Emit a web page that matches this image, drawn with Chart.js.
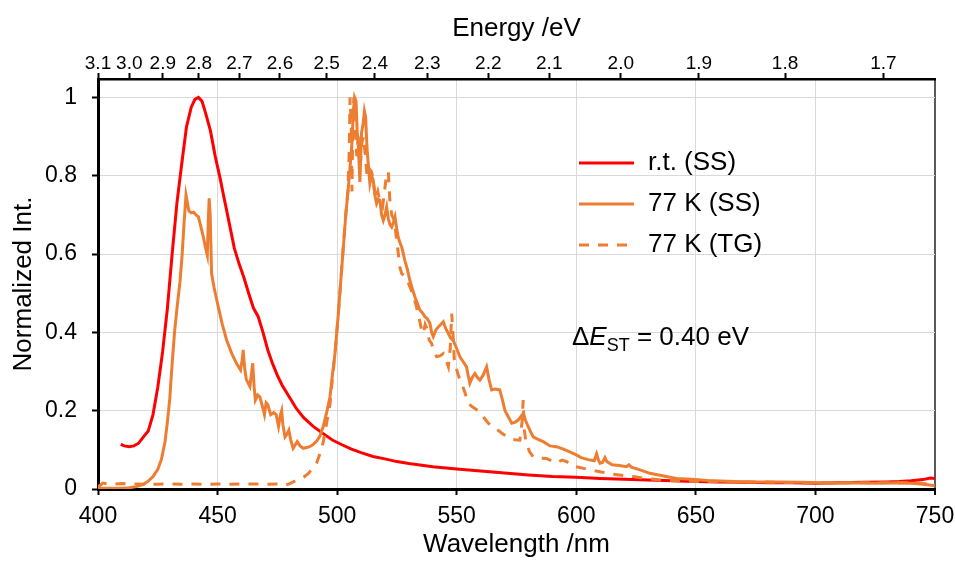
<!DOCTYPE html>
<html><head><meta charset="utf-8">
<script src="https://cdn.jsdelivr.net/npm/chart.js@4"></script>
<style>html,body{margin:0;padding:0;background:#fff;}canvas{display:block;}</style>
</head><body>
<canvas id="c" width="955" height="563"></canvas>
<script>
// ---------- data ----------
const seriesNames = ['r.t. (SS)', '77 K (SS)', '77 K (TG)'];

const rtWl = [409.5,411,413,415,417,419,421,423,425,427,429,431,433,435,437,439,440.5,442,443.5,445,447,449,451,453,455,457,459,461,463,465,467,469,471,473,475,477,480,483,486,490,494,498,502,506,510,515,520,525,530,540,550,560,570,580,590,600,610,620,630,640,650,660,670,680,690,700,710,720,730,735,740,745,748,750];
const rtInt = [0.114,0.110,0.108,0.110,0.117,0.133,0.148,0.19,0.26,0.35,0.46,0.60,0.73,0.83,0.925,0.975,0.995,1.0,0.99,0.96,0.915,0.85,0.795,0.735,0.675,0.615,0.575,0.54,0.50,0.462,0.44,0.40,0.355,0.32,0.29,0.265,0.235,0.205,0.182,0.16,0.142,0.125,0.113,0.102,0.093,0.083,0.077,0.07,0.065,0.057,0.051,0.046,0.041,0.036,0.032,0.030,0.027,0.025,0.023,0.021,0.019,0.018,0.017,0.016,0.016,0.015,0.016,0.017,0.018,0.019,0.021,0.024,0.028,0.027];

const ss77Wl = [400,405,410,413,416,419,421,423,425,426.5,428,429,430,431,432,433,434.3,435.2,436,436.8,437.4,438,439,440,441,442,443,444,445,445.7,446.2,446.5,446.9,447.5,448.5,450.3,452,453.8,456,457.9,459.6,460.3,460.7,461.3,462,463.5,464.3,464.7,465.3,465.8,466.8,467.7,468.8,469.6,470.3,471,472.2,473.5,474.5,475.5,476.3,476.8,477.3,478.2,479,479.8,480.6,481.6,482.5,483.3,484.5,485.8,487.2,488.6,490,491.4,492.8,494.2,495.6,497,498,499.1,500.5,501.5,502.6,503.6,504.7,505.5,506.1,506.8,507.3,507.9,508.4,508.8,509.5,510.2,510.8,511.4,511.9,512.5,513,513.7,514.4,515.1,515.8,516.5,517.2,517.9,518.6,519.3,520,520.7,521.4,522.1,522.8,523.5,524.2,524.9,525.5,526.2,527,527.7,528.3,529.4,530.4,531.5,532.5,533.5,534.6,535.6,536.7,537.7,538.8,539.5,540.2,541.2,542.3,543.3,544.4,545.4,546.5,547.5,548.5,549.9,551.3,552.7,554.1,554.8,555.5,556.5,557.6,558.6,559.7,561,562.5,563.5,564.6,566,568,569,570.2,571.5,573,574.3,575.7,576.8,577.8,578.8,579.9,581,582,584,586.2,589,591.7,594,597.3,600,602,605,607.5,608.5,609.2,609.9,611,612,612.8,615,618,621,622,623,626,630.8,636,641.9,648,655,665.6,675,685,695,707.4,715,725,735,742,747.8,750];
const ss77Int = [0.002,0.002,0.002,0.003,0.006,0.012,0.02,0.032,0.05,0.075,0.12,0.17,0.23,0.32,0.40,0.46,0.53,0.60,0.68,0.75,0.73,0.71,0.705,0.707,0.70,0.695,0.67,0.645,0.615,0.597,0.70,0.742,0.70,0.55,0.515,0.465,0.42,0.38,0.345,0.321,0.304,0.33,0.355,0.31,0.28,0.262,0.30,0.321,0.26,0.227,0.24,0.235,0.21,0.19,0.22,0.215,0.19,0.195,0.19,0.16,0.19,0.20,0.165,0.133,0.14,0.15,0.125,0.104,0.113,0.121,0.11,0.104,0.106,0.108,0.114,0.122,0.135,0.16,0.195,0.235,0.29,0.346,0.448,0.53,0.618,0.70,0.771,0.83,0.873,0.967,1.0,0.99,0.91,0.89,0.784,0.91,0.93,0.965,0.95,0.87,0.831,0.78,0.80,0.788,0.75,0.729,0.74,0.737,0.70,0.686,0.70,0.72,0.69,0.675,0.669,0.68,0.695,0.665,0.644,0.63,0.618,0.60,0.584,0.56,0.533,0.51,0.491,0.475,0.457,0.45,0.44,0.435,0.423,0.40,0.389,0.405,0.414,0.42,0.427,0.41,0.397,0.385,0.38,0.36,0.338,0.325,0.312,0.29,0.27,0.285,0.295,0.285,0.278,0.29,0.312,0.28,0.253,0.255,0.253,0.23,0.20,0.185,0.168,0.17,0.176,0.185,0.193,0.175,0.159,0.145,0.133,0.127,0.121,0.11,0.108,0.103,0.095,0.087,0.08,0.075,0.072,0.09,0.075,0.066,0.068,0.08,0.07,0.062,0.06,0.057,0.062,0.056,0.05,0.04,0.034,0.027,0.025,0.022,0.019,0.018,0.018,0.017,0.015,0.016,0.015,0.016,0.014,0.01,0.008];

const tg77Wl = [400,402,405,410,415,420,425,430,435,440,445,450,455,460,465,470,475,478,480,483,486,488,490,491.4,492.8,494.2,495.6,497,498,499.1,500.5,501.5,502.6,503.6,504.5,505,505.4,505.9,506.2,506.6,507,507.6,508.2,508.8,509.5,510.2,511,511.8,512.5,513.2,514.4,515.1,516,517,518,519,520,520.7,521.4,522,522.8,523.6,524.4,524.9,525.6,526.2,527,528,529,530.2,531.5,533.2,534.5,535.5,536,536.8,537.5,538.5,539.5,540.5,541.6,543,544.4,545.5,546.5,547.3,547.9,548.4,549,550,551,552.1,553.5,554.8,556.5,559,561,563.2,565.3,567.3,569.5,572.2,574.3,576.4,577.3,577.8,578.3,579,580.5,582,585,587.5,589,591.7,594,596,598,600,605,609.9,615,620,624.6,630,637.7,645,655,665,675,685,695,705,715,725,735,742,748,750];
const tg77Int = [0.005,0.015,0.012,0.014,0.013,0.012,0.012,0.013,0.012,0.013,0.012,0.013,0.012,0.013,0.013,0.012,0.013,0.009,0.013,0.022,0.03,0.04,0.055,0.066,0.09,0.12,0.168,0.215,0.28,0.346,0.448,0.53,0.62,0.70,0.76,0.85,1.0,0.93,0.76,0.95,1.0,0.92,0.85,0.90,0.80,0.88,0.90,0.85,0.80,0.82,0.81,0.79,0.74,0.76,0.73,0.72,0.77,0.805,0.81,0.74,0.70,0.69,0.66,0.635,0.60,0.567,0.55,0.545,0.54,0.52,0.50,0.465,0.43,0.40,0.397,0.42,0.41,0.38,0.372,0.35,0.338,0.34,0.346,0.33,0.312,0.36,0.448,0.40,0.33,0.304,0.285,0.27,0.245,0.219,0.21,0.20,0.185,0.168,0.158,0.15,0.14,0.129,0.126,0.125,0.17,0.227,0.15,0.117,0.095,0.082,0.079,0.078,0.074,0.066,0.074,0.07,0.06,0.057,0.05,0.044,0.038,0.034,0.031,0.026,0.022,0.02,0.019,0.018,0.018,0.017,0.016,0.016,0.016,0.016,0.016,0.016,0.012,0.01];

const xTicks = [400,450,500,550,600,650,700,750];
const yTicks = [0,0.2,0.4,0.6,0.8,1];
const yTickLabels = ['0','0.2','0.4','0.6','0.8','1'];
const energyLabels = ['3.1','3.0','2.9','2.8','2.7','2.6','2.5','2.4','2.3','2.2','2.1','2.0','1.9','1.8','1.7'];
const energyTickWl = [400,413.1,427.1,442.2,459.1,476.1,495.6,515.8,537.7,563.2,588.7,618.6,651.3,687.3,728.4];

// ---------- styles ----------
const FONT = '"Liberation Sans", Arial, sans-serif';
const RED = '#FF0000', ORANGE = '#ED7D31';
const zip = (a, b) => a.map((x, i) => ({x: x, y: b[i]}));

const legendPlugin = {
  id: 'insideLegend',
  afterDraw(chart) {
    const ctx = chart.ctx;
    const items = [
      {name: seriesNames[0], color: RED, dash: []},
      {name: seriesNames[1], color: ORANGE, dash: []},
      {name: seriesNames[2], color: ORANGE, dash: [10, 9]}
    ];
    const ys = [163, 204, 245];
    ctx.save();
    items.forEach((it, i) => {
      ctx.beginPath();
      ctx.setLineDash(it.dash);
      ctx.strokeStyle = it.color;
      ctx.lineWidth = 3;
      ctx.moveTo(579, ys[i]);
      ctx.lineTo(634, ys[i]);
      ctx.stroke();
      ctx.setLineDash([]);
      ctx.fillStyle = '#000';
      ctx.font = '26px ' + FONT;
      ctx.textBaseline = 'middle';
      ctx.textAlign = 'left';
      ctx.fillText(it.name, 648, ys[i]);
    });
    // Delta E annotation
    let x = 572; const base = 345;
    ctx.textBaseline = 'alphabetic';
    ctx.font = '26px ' + FONT;
    ctx.fillText('\u0394', x, base); x += ctx.measureText('\u0394').width;
    ctx.font = 'italic 26px ' + FONT;
    ctx.fillText('E', x, base); x += ctx.measureText('E').width;
    ctx.font = '18px ' + FONT;
    ctx.fillText('ST', x, base + 6); x += ctx.measureText('ST').width;
    ctx.font = '26px ' + FONT;
    ctx.fillText(' = 0.40 eV', x, base);
    ctx.restore();
  }
};

new Chart(document.getElementById('c'), {
  type: 'line',
  data: {
    datasets: [
      {label: seriesNames[0], data: zip(rtWl, rtInt), borderColor: RED, borderWidth: 3, pointRadius: 0, order: 2, tension: 0},
      {label: seriesNames[1], data: zip(ss77Wl, ss77Int), borderColor: ORANGE, borderWidth: 3, pointRadius: 0, order: 1, tension: 0},
      {label: seriesNames[2], data: zip(tg77Wl, tg77Int), borderColor: ORANGE, borderWidth: 3, borderDash: [10, 9], pointRadius: 0, order: 0, tension: 0}
    ]
  },
  options: {
    responsive: false,
    animation: false,
    devicePixelRatio: 1,
    layout: {padding: {left: 0, right: 20, top: 0, bottom: 0}},
    plugins: {legend: {display: false}, tooltip: {enabled: false}},
    scales: {
      x: {
        type: 'linear', position: 'bottom', min: 400, max: 750,
        afterBuildTicks: s => { s.ticks = xTicks.map(v => ({value: v})); },
        afterFit: s => { s.height = 74; },
        ticks: {color: '#000', font: {family: FONT, size: 23, lineHeight: 1.87}, padding: 0, maxRotation: 0, autoSkip: false},
        grid: {
          color: c => (c.tick && c.tick.value === 750) ? '#595959' : '#d9d9d9',
          lineWidth: c => (c.tick && c.tick.value === 750) ? 2 : 1,
          tickColor: '#000', tickLength: 6, tickWidth: 2
        },
        border: {color: '#000', width: 3},
        title: {display: true, text: 'Wavelength /nm', color: '#000', font: {family: FONT, size: 26}, padding: {top: 0, bottom: 3}}
      },
      x2: {
        type: 'linear', position: 'top', min: 400, max: 750,
        afterBuildTicks: s => { s.ticks = energyTickWl.map(v => ({value: v})); },
        afterFit: s => { s.height = 79; },
        ticks: {color: '#000', font: {family: FONT, size: 19, lineHeight: 1}, padding: 0, maxRotation: 0, autoSkip: false,
          callback: (v, i) => energyLabels[i]},
        grid: {drawOnChartArea: false, color: '#000', tickColor: '#000', tickLength: 6, tickWidth: 2},
        border: {color: '#000', width: 2.5},
        title: {display: true, text: 'Energy /eV', color: '#000', font: {family: FONT, size: 26}, padding: {top: 13, bottom: 0}}
      },
      y: {
        type: 'linear', position: 'left', min: 0, max: 1.047,
        afterBuildTicks: s => { s.ticks = yTicks.map(v => ({value: v})); },
        afterFit: s => { s.width = 98; },
        ticks: {color: '#000', font: {family: FONT, size: 23}, padding: 15,
          callback: (v, i) => yTickLabels[i]},
        grid: {color: '#d9d9d9', lineWidth: 1, tickColor: '#000', tickLength: 6, tickWidth: 2},
        border: {color: '#000', width: 3},
        title: {display: true, text: 'Normalized Int.', color: '#000', font: {family: FONT, size: 26}, padding: {top: 8, bottom: 0}}
      }
    }
  },
  plugins: [legendPlugin]
});
</script>
</body></html>
